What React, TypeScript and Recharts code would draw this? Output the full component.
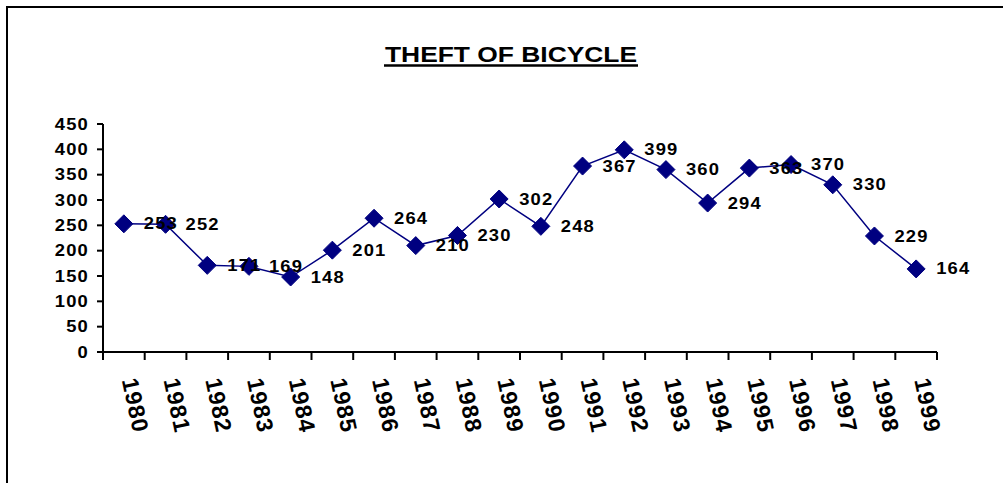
import React from 'react';
import { LineChart, Line, XAxis, YAxis, LabelList } from 'recharts';

const years = ['1980', '1981', '1982', '1983', '1984', '1985', '1986', '1987', '1988', '1989', '1990', '1991', '1992', '1993', '1994', '1995', '1996', '1997', '1998', '1999'];
const thefts = [253, 252, 171, 169, 148, 201, 264, 210, 230, 302, 248, 367, 399, 360, 294, 363, 370, 330, 229, 164];
const yTicks = [0, 50, 100, 150, 200, 250, 300, 350, 400, 450];
const chartTitle = 'THEFT OF BICYCLE';

const data = years.map((year, i) => ({ year, thefts: thefts[i] }));

const W = 1003;
const H = 483;
const MARGIN = { top: 124, right: 66, bottom: 71, left: 0 };
const Y_W = 103;
const X_H = 60;
const BAND = (W - MARGIN.left - Y_W - MARGIN.right) / years.length;
const FONT = "'Liberation Sans', Arial, Helvetica, sans-serif";
const NAVY = '#000080';

function XTick(props: any) {
  const { x, y, payload, index } = props;
  const last = index === years.length - 1;
  return (
    <g>
      <line x1={x - BAND / 2} x2={x - BAND / 2} y1={y} y2={y + 8} stroke="#000" strokeWidth={2} />
      {last && <line x1={x + BAND / 2} x2={x + BAND / 2} y1={y} y2={y + 8} stroke="#000" strokeWidth={2} />}
      <text
        transform={`translate(${x - 2},${y + 28}) rotate(78)`}
        textAnchor="start"
        fontSize={23}
        fontWeight={700}
        fontFamily={FONT}
        fill="#000"
        letterSpacing={1}
      >
        {payload.value}
      </text>
    </g>
  );
}

function YTick(props: any) {
  const { x, y, payload } = props;
  return (
    <text
      transform={`translate(${x},${y}) scale(1.15,1)`}
      textAnchor="end"
      dominantBaseline="central"
      fontSize={16}
      fontWeight={700}
      fontFamily={FONT}
      fill="#000"
      letterSpacing={1}
    >
      {payload.value}
    </text>
  );
}

function Diamond(props: any) {
  const { cx, cy } = props;
  if (cx == null || cy == null) return null;
  const r = 9;
  return (
    <polygon
      points={`${cx},${cy - r} ${cx + r},${cy} ${cx},${cy + r} ${cx - r},${cy}`}
      fill={NAVY}
      stroke={NAVY}
      strokeWidth={1}
    />
  );
}

function ValueLabel(props: any) {
  const { x, y, value, viewBox } = props;
  const px = viewBox && viewBox.x != null ? viewBox.x : x;
  const py = viewBox && viewBox.y != null ? viewBox.y : y;
  if (px == null || py == null) return null;
  return (
    <text
      transform={`translate(${px + 20},${py}) scale(1.15,1)`}
      textAnchor="start"
      dominantBaseline="central"
      fontSize={16}
      fontWeight={700}
      fontFamily={FONT}
      fill="#000"
      letterSpacing={1}
    >
      {value}
    </text>
  );
}

export default function App() {
  return (
    <div style={{ position: 'absolute', left: 0, top: 0, width: W, height: H, overflow: 'hidden', background: '#fff' }}>
      <div
        style={{
          position: 'absolute',
          left: 6,
          top: 6,
          width: 1200,
          height: 1000,
          border: '2px solid #000',
          boxSizing: 'border-box',
        }}
      />
      <svg style={{ position: 'absolute', left: 0, top: 0 }} width={W} height={100}>
        <text
          transform="translate(511,62) scale(1.2,1)"
          textAnchor="middle"
          fontSize={22}
          fontWeight={700}
          fontFamily={FONT}
          fill="#000"
        >
          {chartTitle}
        </text>
        <line x1={384} x2={638} y1={65.5} y2={65.5} stroke="#000" strokeWidth={2.5} />
      </svg>
      <div style={{ position: 'absolute', left: 0, top: 0 }}>
        <LineChart width={W} height={H} data={data} margin={MARGIN}>
          <XAxis
            dataKey="year"
            xAxisId="bottom"
            height={X_H}
            interval={0}
            padding={{ left: BAND / 2, right: BAND / 2 }}
            tickSize={0}
            tickMargin={0}
            tickLine={false}
            axisLine={{ stroke: '#000', strokeWidth: 2 }}
            tick={<XTick />}
          />
          <XAxis
            dataKey="year"
            xAxisId="top"
            orientation="top"
            height={0}
            tick={false}
            tickLine={false}
            axisLine={{ stroke: '#808080', strokeWidth: 2 }}
          />
          <YAxis
            yAxisId="left"
            width={Y_W}
            domain={[0, 450]}
            ticks={yTicks}
            interval={0}
            tickSize={6}
            tickMargin={8}
            axisLine={{ stroke: '#000', strokeWidth: 2 }}
            tickLine={{ stroke: '#000', strokeWidth: 2 }}
            tick={<YTick />}
          />
          <YAxis
            yAxisId="right"
            orientation="right"
            width={0}
            domain={[0, 450]}
            tick={false}
            tickLine={false}
            axisLine={{ stroke: '#808080', strokeWidth: 2 }}
          />
          <Line
            xAxisId="bottom"
            yAxisId="left"
            type="linear"
            dataKey="thefts"
            stroke={NAVY}
            strokeWidth={1.5}
            isAnimationActive={false}
            dot={(p: any) => <Diamond key={`d-${p.index}`} {...p} />}
            activeDot={false}
          >
            <LabelList dataKey="thefts" content={<ValueLabel />} />
          </Line>
        </LineChart>
      </div>
    </div>
  );
}
